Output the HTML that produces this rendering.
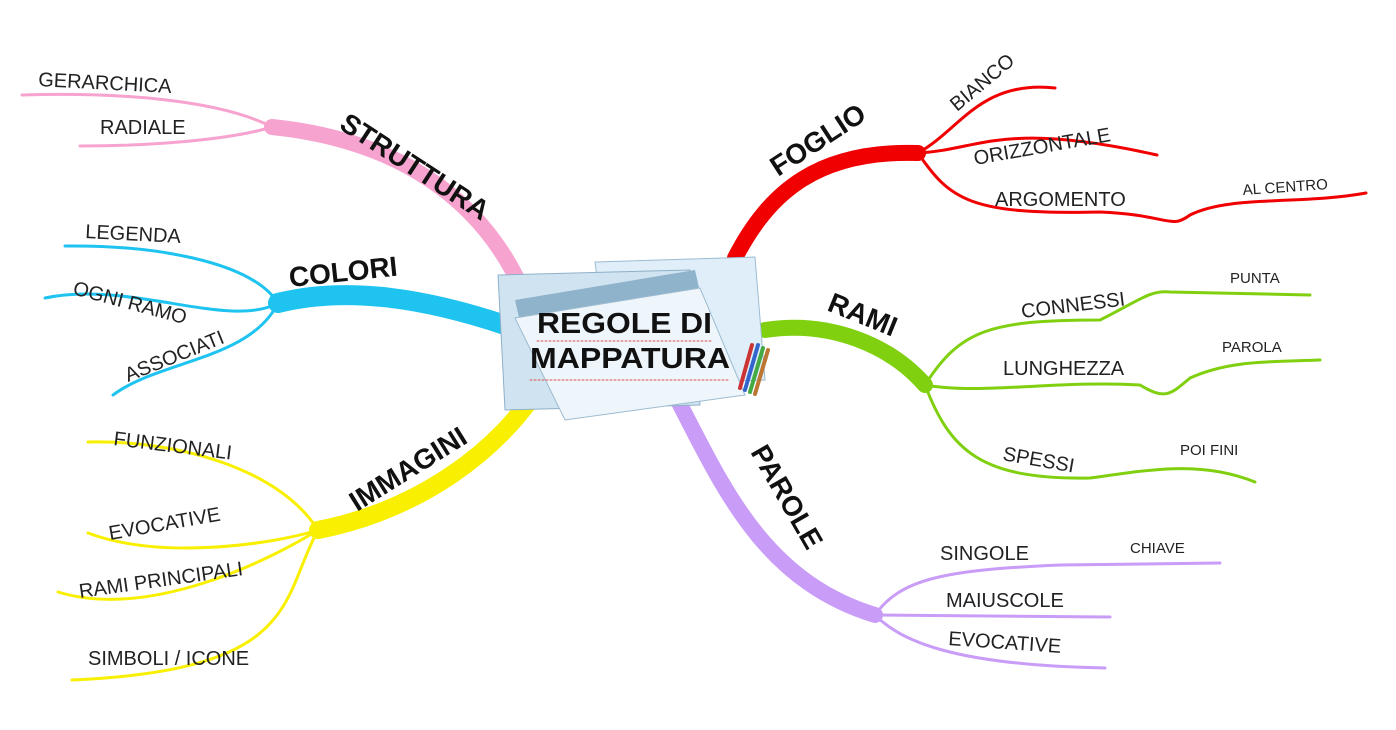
<!DOCTYPE html>
<html><head><meta charset="utf-8"><style>
html,body{margin:0;padding:0;background:#fff;width:1396px;height:730px;overflow:hidden}
svg{display:block}
text{font-family:"Liberation Sans",sans-serif;fill:#222}
.m{font-size:28px;font-weight:bold;fill:#111}
.s{font-size:20px}
.t{font-size:15px}
.d{stroke:#e05050;stroke-width:1;stroke-dasharray:2 2;fill:none}
</style></head><body>
<svg width="1396" height="730" viewBox="0 0 1396 730" fill="none" stroke-linecap="round">
<!-- PINK -->
<g stroke="#f7a3cf">
<path d="M520 285 C480 200 400 140 272 127" stroke-width="16"/>
<path d="M272 127 C220 100 120 92 22 95" stroke-width="3"/>
<path d="M272 127 C230 140 150 146 80 146" stroke-width="3"/>
</g>
<!-- BLUE -->
<g stroke="#1ec3f0">
<path d="M505 325 C430 300 350 285 278 303" stroke-width="20"/>
<path d="M278 303 C250 260 150 245 65 246" stroke-width="3"/>
<path d="M278 303 C230 330 130 280 45 298" stroke-width="3"/>
<path d="M278 303 C250 360 160 360 113 395" stroke-width="3"/>
</g>
<!-- YELLOW -->
<g stroke="#f8f000">
<path d="M540 385 C500 450 420 510 318 530" stroke-width="18"/>
<path d="M318 530 C280 470 180 440 88 442" stroke-width="3"/>
<path d="M318 530 C270 545 160 560 88 533" stroke-width="3"/>
<path d="M318 530 C270 560 150 620 58 592" stroke-width="3"/>
<path d="M318 530 C280 600 300 670 72 680" stroke-width="3"/>
</g>
<!-- RED -->
<g stroke="#f00000">
<path d="M735 258 C770 190 820 150 918 153" stroke-width="16"/>
<path d="M918 153 C960 130 980 80 1055 88" stroke-width="3"/>
<path d="M918 153 C980 150 1000 120 1157 155" stroke-width="3"/>
<path d="M918 153 C950 200 970 215 1100 212 C1170 215 1170 230 1190 215 C1230 195 1300 205 1366 193" stroke-width="3"/>
</g>
<!-- GREEN -->
<g stroke="#80d010">
<path d="M765 330 C830 320 890 345 925 385" stroke-width="16"/>
<path d="M925 385 C960 330 990 320 1100 320 C1140 300 1150 290 1170 292 L1310 295" stroke-width="3"/>
<path d="M925 385 C980 395 1060 380 1140 385 C1165 400 1170 395 1190 378 C1230 360 1270 362 1320 360" stroke-width="3"/>
<path d="M925 385 C950 450 980 480 1090 478 C1150 470 1200 460 1255 482" stroke-width="3"/>
</g>
<!-- PURPLE -->
<g stroke="#c99cf8">
<path d="M675 395 C720 480 760 580 875 615" stroke-width="16"/>
<path d="M875 615 C900 580 940 570 1060 565 L1220 563" stroke-width="3"/>
<path d="M875 615 L1110 617" stroke-width="3"/>
<path d="M875 615 C900 640 950 665 1105 668" stroke-width="3"/>
</g>
<!-- center image -->
<g>
<polygon points="595,262 755,257 765,380 610,385" fill="#dfeef8" stroke="#9dbbd0"/>
<polygon points="498,275 690,270 700,405 505,410" fill="#cfe3f0" stroke="#8fb0c8"/>
<polygon points="515,300 695,270 700,292 520,322" fill="#8fb3cb"/>
<polygon points="515,318 700,288 745,395 565,420" fill="#eef5fb" stroke="#9dbbd0"/>
<g stroke-width="4">
<line x1="740" y1="388" x2="752" y2="345" stroke="#c33"/>
<line x1="745" y1="390" x2="758" y2="345" stroke="#36c"/>
<line x1="750" y1="392" x2="763" y2="348" stroke="#4a4"/>
<line x1="755" y1="394" x2="768" y2="350" stroke="#b73"/>
</g>
</g>
<text x="537" y="333" textLength="175" lengthAdjust="spacingAndGlyphs" style="font-size:29px;font-weight:bold;fill:#111">REGOLE DI</text>
<text x="530" y="368" textLength="200" lengthAdjust="spacingAndGlyphs" style="font-size:29px;font-weight:bold;fill:#111">MAPPATURA</text>
<line x1="537" y1="341" x2="712" y2="341" class="d"/>
<line x1="530" y1="380" x2="730" y2="380" class="d"/>
<!-- main labels -->
<text class="m" transform="translate(338,128) rotate(33)">STRUTTURA</text>
<text class="m" transform="translate(290,287) rotate(-6)">COLORI</text>
<text class="m" transform="translate(357,512) rotate(-32)">IMMAGINI</text>
<text class="m" transform="translate(778,177) rotate(-33)">FOGLIO</text>
<text class="m" transform="translate(826,310) rotate(22)">RAMI</text>
<text class="m" transform="translate(750,452) rotate(60)">PAROLE</text>
<!-- sub labels -->
<text class="s" transform="translate(38,86) rotate(3)">GERARCHICA</text>
<text class="s" x="100" y="134">RADIALE</text>
<text class="s" transform="translate(85,238) rotate(3)">LEGENDA</text>
<text class="s" transform="translate(72,294) rotate(15)">OGNI RAMO</text>
<text class="s" transform="translate(128,382) rotate(-22)">ASSOCIATI</text>
<text class="s" transform="translate(113,445) rotate(7)">FUNZIONALI</text>
<text class="s" transform="translate(110,540) rotate(-10)">EVOCATIVE</text>
<text class="s" transform="translate(80,598) rotate(-8)">RAMI PRINCIPALI</text>
<text class="s" x="88" y="665">SIMBOLI / ICONE</text>
<text class="s" transform="translate(957,112) rotate(-40)">BIANCO</text>
<text class="s" transform="translate(975,165) rotate(-10)">ORIZZONTALE</text>
<text class="s" x="995" y="206">ARGOMENTO</text>
<text class="t" transform="translate(1243,195) rotate(-4)">AL CENTRO</text>
<text class="s" transform="translate(1022,318) rotate(-7)">CONNESSI</text>
<text class="t" x="1230" y="283">PUNTA</text>
<text class="s" x="1003" y="375">LUNGHEZZA</text>
<text class="t" x="1222" y="352">PAROLA</text>
<text class="s" transform="translate(1002,460) rotate(10)">SPESSI</text>
<text class="t" x="1180" y="455">POI FINI</text>
<text class="s" x="940" y="560">SINGOLE</text>
<text class="t" x="1130" y="553">CHIAVE</text>
<text class="s" x="946" y="607">MAIUSCOLE</text>
<text class="s" transform="translate(948,645) rotate(4)">EVOCATIVE</text>
</svg>
</body></html>
